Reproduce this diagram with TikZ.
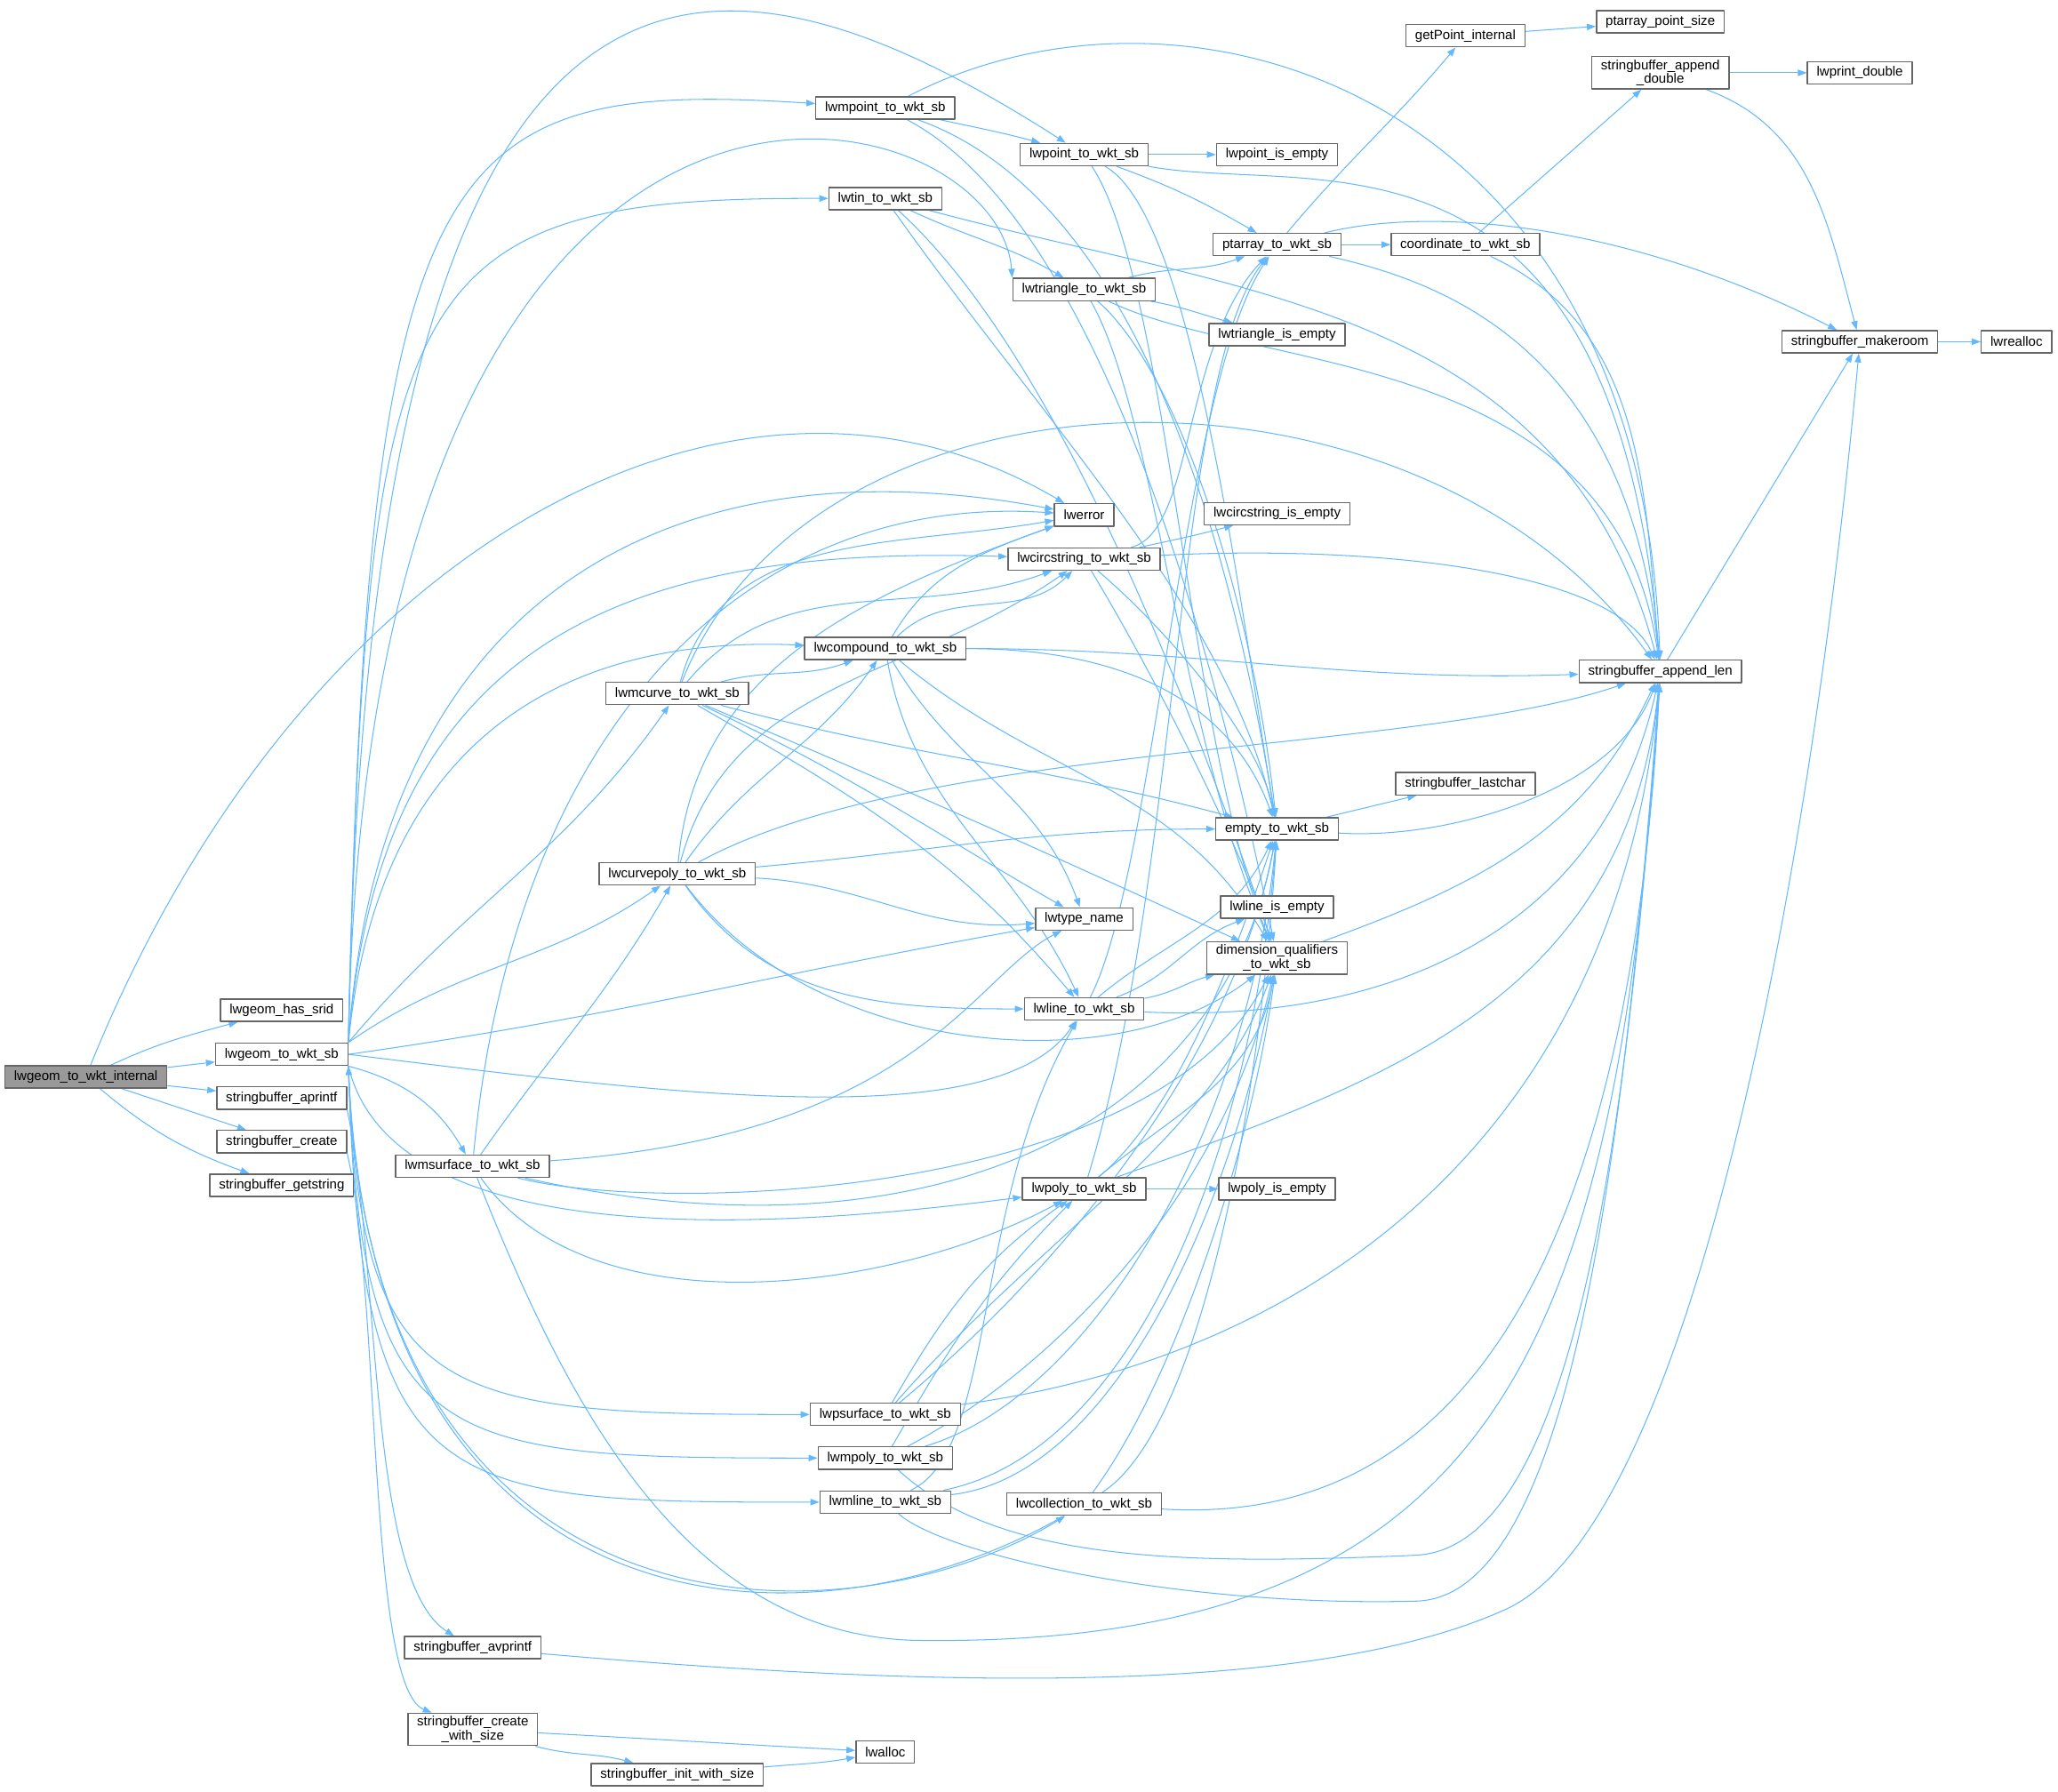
\documentclass[tikz,border=0pt]{standalone}
\usepackage{fontspec}
\setmainfont{Liberation Sans}
\usetikzlibrary{arrows.meta,backgrounds}
\definecolor{edgeblue}{HTML}{63B8FF}
\definecolor{boxgray}{HTML}{666666}
\definecolor{rootgray}{HTML}{999999}

\begin{document}
\begin{tikzpicture}[line cap=round,line join=round,>={Triangle[length=5.8pt,width=4.2pt]},x=0.03cm,y=0.03cm,
	fn/.style={draw=boxgray,fill=white,line width=0.8pt,rectangle,inner xsep=6pt,inner ysep=2pt,minimum height=14.5pt,align=center,font=\fontsize{8.7}{9}\selectfont},
	call/.style={draw=edgeblue,line width=0.6pt,->}]
	\useasboundingbox (0,0) rectangle (1568,1365);
	\node[fn,fill=rootgray] (root) at (65.4,544.5) {lwgeom\_to\_wkt\_internal};
	\node[fn] (hassrid) at (214.6,595.2) {lwgeom\_has\_srid};
	\node[fn] (wktsb) at (214.6,561.6) {lwgeom\_to\_wkt\_sb};
	\node[fn] (aprintf) at (214.6,528.3) {stringbuffer\_aprintf};
	\node[fn] (create) at (214.6,495.1) {stringbuffer\_create};
	\node[fn] (getstr) at (214.6,461.8) {stringbuffer\_getstring};
	\node[fn] (msurface) at (360,476.4) {lwmsurface\_to\_wkt\_sb};
	\node[fn] (avprintf) at (360.2,109.5) {stringbuffer\_avprintf};
	\node[fn] (cws) at (360.2,47.2) {stringbuffer\_create\\\_with\_size};
	\node[fn] (mcurve) at (516,836.5) {lwmcurve\_to\_wkt\_sb};
	\node[fn] (curvepoly) at (516,699.1) {lwcurvepoly\_to\_wkt\_sb};
	\node[fn] (iws) at (516,12.8) {stringbuffer\_init\_with\_size};
	\node[fn] (mpoint) at (674.5,1282.6) {lwmpoint\_to\_wkt\_sb};
	\node[fn] (tin) at (674.5,1213.6) {lwtin\_to\_wkt\_sb};
	\node[fn] (compound) at (674.5,870.8) {lwcompound\_to\_wkt\_sb};
	\node[fn] (psurface) at (674.5,287.2) {lwpsurface\_to\_wkt\_sb};
	\node[fn] (mpoly) at (674.5,254) {lwmpoly\_to\_wkt\_sb};
	\node[fn] (mline) at (674.5,220.5) {lwmline\_to\_wkt\_sb};
	\node[fn] (alloc) at (674.5,30) {lwalloc};
	\node[fn] (point) at (826,1247.2) {lwpoint\_to\_wkt\_sb};
	\node[fn] (triangle) at (826,1144.4) {lwtriangle\_to\_wkt\_sb};
	\node[fn] (lwerr) at (826,972.6) {lwerror};
	\node[fn] (circ) at (826,939) {lwcircstring\_to\_wkt\_sb};
	\node[fn] (tname) at (826,664.8) {lwtype\_name};
	\node[fn] (line) at (826,596.2) {lwline\_to\_wkt\_sb};
	\node[fn] (poly) at (826,459) {lwpoly\_to\_wkt\_sb};
	\node[fn] (coll) at (826,218.8) {lwcollection\_to\_wkt\_sb};
	\node[fn] (pointempty) at (973,1247.2) {lwpoint\_is\_empty};
	\node[fn] (ptarray) at (973,1178.6) {ptarray\_to\_wkt\_sb};
	\node[fn] (triempty) at (973,1109.9) {lwtriangle\_is\_empty};
	\node[fn] (circempty) at (973,973.6) {lwcircstring\_is\_empty};
	\node[fn] (empty) at (973,733.3) {empty\_to\_wkt\_sb};
	\node[fn] (lineempty) at (973,673.7) {lwline\_is\_empty};
	\node[fn] (dimq) at (973,635) {dimension\_qualifiers\\\_to\_wkt\_sb};
	\node[fn] (polyempty) at (973,459) {lwpoly\_is\_empty};
	\node[fn] (getpt) at (1116.5,1337.8) {getPoint\_internal};
	\node[fn] (coord) at (1116.5,1178.6) {coordinate\_to\_wkt\_sb};
	\node[fn] (lastchar) at (1116.5,767.8) {stringbuffer\_lastchar};
	\node[fn] (ptsize) at (1265,1348.4) {ptarray\_point\_size};
	\node[fn] (appdbl) at (1265,1309.5) {stringbuffer\_append\\\_double};
	\node[fn] (applen) at (1265,853.4) {stringbuffer\_append\_len};
	\node[fn] (printdbl) at (1417,1309.5) {lwprint\_double};
	\node[fn] (makeroom) at (1417,1104.6) {stringbuffer\_makeroom};
	\node[fn] (realloc) at (1536.4,1104.6) {lwrealloc};

	\begin{scope}[on background layer]
	\draw[call] (root) to[out=25,in=195] (hassrid);
	\draw[call] (root) -- (wktsb);
	\draw[call] (root) -- (aprintf);
	\draw[call] (root) -- (create);
	\draw[call] (root) to[out=-40,in=160] (getstr);
	\draw[call] (root) .. controls (230,950) and (560,1130) .. (lwerr);

	\draw[call] (wktsb.north east) .. controls (280,1470) and (540,1430) .. (point);
	\draw[call] (wktsb.north east) .. controls (280,1250) and (330,1305) .. (mpoint);
	\draw[call] (wktsb.north east) .. controls (280,1150) and (300,1215) .. (tin);
	\draw[call] (wktsb.north east) .. controls (280,1420) and (760,1300) .. (triangle.north west);
	\draw[call] (wktsb.north east) .. controls (290,920) and (520,1030) .. (lwerr);
	\draw[call] (wktsb.north east) .. controls (290,880) and (480,950) .. (circ);
	\draw[call] (wktsb.north east) .. controls (290,820) and (450,880) .. (compound);
	\draw[call] (wktsb.north east) to[out=50,in=235] (mcurve);
	\draw[call] (wktsb.north east) to[out=35,in=215] (curvepoly);
	\draw[call] (wktsb.east) to[out=8,in=190] (tname);
	\draw[call] (wktsb.east) .. controls (520,530) and (760,500) .. (line);
	\draw[call] (wktsb.south east) to[out=-15,in=120] (msurface);
	\draw[call] (wktsb.south east) .. controls (290,450) and (450,410) .. (poly);
	\draw[call] (wktsb.south east) .. controls (275,300) and (330,287) .. (psurface);
	\draw[call] (wktsb.south east) .. controls (275,260) and (330,254) .. (mpoly);
	\draw[call] (wktsb.south east) .. controls (275,225) and (330,220) .. (mline);
	\draw[call] (wktsb.south east) .. controls (280,100) and (650,110) .. (coll);
	\draw[call] (coll) .. controls (620,100) and (285,110) .. (wktsb.south east);

	\draw[call] (aprintf.south east) .. controls (290,400) and (280,160) .. (avprintf);
	\draw[call] (create.south east) .. controls (290,380) and (280,80) .. (cws);
	\draw[call] (avprintf) .. controls (700,80) and (1000,70) .. (1150,140) .. controls (1290,210) and (1380,700) .. (makeroom);
	\draw[call] (cws) to[out=-3,in=177] (alloc);
	\draw[call] (cws) to[out=-15,in=165] (iws);
	\draw[call] (iws) to[out=5,in=190] (alloc);

	\draw[call] (msurface) to[out=55,in=240] (curvepoly);
	\draw[call] (msurface) .. controls (390,800) and (560,990) .. (lwerr);
	\draw[call] (msurface) .. controls (700,500) and (740,620) .. (tname);
	\draw[call] (msurface) .. controls (450,350) and (680,380) .. (poly);
	\draw[call] (msurface) .. controls (500,440) and (880,450) .. (dimq);
	\draw[call] (msurface) .. controls (700,400) and (930,500) .. (empty);
	\draw[call] (msurface) .. controls (430,300) and (520,118) .. (700,115) .. controls (1150,110) and (1232,350) .. (applen);

	\draw[call] (mcurve) to[out=15,in=200] (compound);
	\draw[call] (mcurve) to[out=50,in=200] (circ);
	\draw[call] (mcurve) to[out=75,in=190] (lwerr);
	\draw[call] (mcurve) to[out=-30,in=130] (line);
	\draw[call] (mcurve) to[out=-25,in=150] (tname);
	\draw[call] (mcurve) .. controls (700,760) and (830,700) .. (dimq);
	\draw[call] (mcurve) to[out=-15,in=165] (empty);
	\draw[call] (mcurve) .. controls (620,1100) and (1080,1110) .. (applen);

	\draw[call] (curvepoly) to[out=55,in=235] (compound);
	\draw[call] (curvepoly) to[out=75,in=215] (circ);
	\draw[call] (curvepoly) to[out=85,in=200] (lwerr);
	\draw[call] (curvepoly) to[out=-55,in=180] (line);
	\draw[call] (curvepoly) to[out=-3,in=185] (tname);
	\draw[call] (curvepoly) .. controls (620,560) and (850,540) .. (dimq);
	\draw[call] (curvepoly) to[out=5,in=180] (empty);
	\draw[call] (curvepoly) .. controls (700,800) and (1080,790) .. (applen);

	\draw[call] (compound) to[out=45,in=225] (circ);
	\draw[call] (compound) to[out=60,in=200] (lwerr);
	\draw[call] (compound) to[out=-80,in=115] (line);
	\draw[call] (compound) to[out=-60,in=110] (tname);
	\draw[call] (compound) to[out=-40,in=120] (dimq);
	\draw[call] (compound) to[out=0,in=110] (empty);
	\draw[call] (compound) to[out=0,in=182] (applen);

	\draw[call] (mpoint) to[out=-12,in=165] (point);
	\draw[call] (mpoint) .. controls (830,1200) and (920,900) .. (dimq);
	\draw[call] (mpoint) .. controls (850,1220) and (930,1000) .. (empty);
	\draw[call] (mpoint) .. controls (900,1400) and (1250,1300) .. (applen);

	\draw[call] (point) -- (pointempty);
	\draw[call] (point) to[out=-20,in=150] (ptarray);
	\draw[call] (point) .. controls (890,1150) and (905,800) .. (dimq);
	\draw[call] (point) .. controls (910,1200) and (945,900) .. (empty);
	\draw[call] (point.south east) .. controls (1000,1215) and (1230,1290) .. (applen);

	\draw[call] (tin) to[out=-25,in=150] (triangle);
	\draw[call] (tin) .. controls (950,1140) and (1190,1130) .. (applen);
	\draw[call] (tin) .. controls (800,1100) and (900,850) .. (dimq);
	\draw[call] (tin) .. controls (790,1050) and (935,900) .. (empty);

	\draw[call] (triangle) to[out=-10,in=165] (triempty);
	\draw[call] (triangle) to[out=15,in=200] (ptarray);
	\draw[call] (triangle) .. controls (880,1050) and (900,800) .. (dimq);
	\draw[call] (triangle) .. controls (900,1080) and (955,900) .. (empty);
	\draw[call] (triangle) .. controls (960,1080) and (1230,1100) .. (applen);

	\draw[call] (ptarray) to[out=50,in=230] (getpt);
	\draw[call] (ptarray) -- (coord);
	\draw[call] (ptarray) .. controls (1100,1150) and (1240,1100) .. (applen);
	\draw[call] (ptarray) .. controls (1100,1210) and (1250,1190) .. (makeroom);
	\draw[call] (getpt) -- (ptsize);
	\draw[call] (coord) -- (appdbl);
	\draw[call] (coord) to[out=-25,in=95] (applen);
	\draw[call] (appdbl) -- (printdbl);
	\draw[call] (appdbl) to[out=-20,in=105] (makeroom);

	\draw[call] (circ) to[out=12,in=195] (circempty);
	\draw[call] (circ) .. controls (910,960) and (900,1100) .. (ptarray);
	\draw[call] (circ) .. controls (880,850) and (945,720) .. (dimq);
	\draw[call] (circ) .. controls (895,880) and (960,800) .. (empty);
	\draw[call] (circ) .. controls (1050,950) and (1230,930) .. (applen);

	\draw[call] (line) to[out=20,in=200] (lineempty);
	\draw[call] (line) to[out=10,in=195] (dimq);
	\draw[call] (line) to[out=40,in=245] (empty);
	\draw[call] (line) .. controls (880,700) and (900,1070) .. (ptarray);
	\draw[call] (line) .. controls (1050,585) and (1220,650) .. (applen);

	\draw[call] (poly) -- (polyempty);
	\draw[call] (poly) .. controls (900,700) and (895,1080) .. (ptarray);
	\draw[call] (poly) to[out=40,in=260] (dimq);
	\draw[call] (poly) .. controls (900,520) and (945,650) .. (empty);
	\draw[call] (poly) .. controls (1050,540) and (1238,600) .. (applen);

	\draw[call] (psurface) to[out=60,in=215] (poly);
	\draw[call] (psurface) .. controls (790,420) and (925,500) .. (dimq);
	\draw[call] (psurface) .. controls (810,400) and (940,560) .. (empty);
	\draw[call] (psurface) .. controls (1000,330) and (1232,500) .. (applen);

	\draw[call] (mpoly) to[out=60,in=225] (poly);
	\draw[call] (mpoly) .. controls (800,320) and (930,450) .. (dimq);
	\draw[call] (mpoly) .. controls (830,300) and (950,500) .. (empty);
	\draw[call] (mpoly) .. controls (760,175) and (900,172) .. (1080,180) .. controls (1200,188) and (1240,500) .. (applen);

	\draw[call] (mline) .. controls (760,260) and (740,450) .. (line);
	\draw[call] (mline) .. controls (850,240) and (940,450) .. (dimq);
	\draw[call] (mline) .. controls (870,260) and (955,500) .. (empty);
	\draw[call] (mline) .. controls (720,180) and (900,140) .. (1080,145) .. controls (1200,150) and (1238,500) .. (applen);

	\draw[call] (coll) .. controls (900,320) and (955,500) .. (dimq);
	\draw[call] (coll) .. controls (920,280) and (962,550) .. (empty);
	\draw[call] (coll) .. controls (1050,205) and (1236,300) .. (applen);

	\draw[call] (empty) -- (lastchar);
	\draw[call] (empty) .. controls (1100,725) and (1230,760) .. (applen);
	\draw[call] (dimq) to[out=20,in=245] (applen);
	\draw[call] (applen) -- (makeroom);
	\draw[call] (makeroom) -- (realloc);
	\end{scope}
\end{tikzpicture}
\end{document}
